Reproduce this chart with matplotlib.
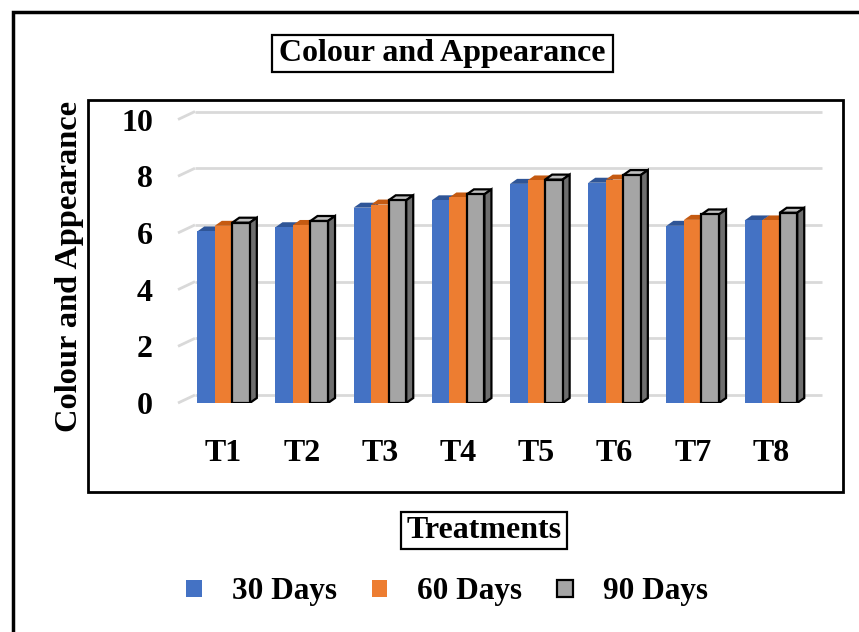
import numpy as np
import matplotlib
matplotlib.use("Agg")
import matplotlib.pyplot as plt
from matplotlib.patches import Rectangle, Polygon, Patch

plt.rcParams['font.family'] = ['Liberation Serif', 'DejaVu Serif']
plt.rcParams['font.weight'] = 'bold'

# sensory scores
treatments = ['T1', 'T2', 'T3', 'T4', 'T5', 'T6', 'T7', 'T8']
days_30 = [6.05, 6.20, 6.89, 7.15, 7.73, 7.77, 6.25, 6.44]
days_60 = [6.25, 6.28, 7.00, 7.25, 7.85, 7.88, 6.46, 6.44]
days_90 = [6.36, 6.42, 7.15, 7.36, 7.88, 8.04, 6.65, 6.71]
series_names = ['30 Days', '60 Days', '90 Days']

W, H = 859, 632
fig = plt.figure(figsize=(W / 100, H / 100), dpi=100)


def box(x0, y0, x1, y1, lw):
    # rectangle given in pixel coords measured from the top-left corner
    fig.patches.append(Rectangle((x0 / W, 1 - y1 / H), (x1 - x0) / W,
                                 (y1 - y0) / H, transform=fig.transFigure,
                                 facecolor='none', edgecolor='black', lw=lw))


# outer and inner frames, title boxes
box(13, 12, 883, 650, 2.5)
box(88, 100, 843, 492, 2)
box(272, 35, 613, 72, 1.6)
box(401, 512, 567, 549, 1.6)

ax = fig.add_axes([178 / W, 1 - 403 / H, 644 / W, 292 / H])
ax.set_xlim(-0.582, 7.653)
ax.set_ylim(0, 10.3)
for s in ax.spines.values():
    s.set_visible(False)
ax.patch.set_alpha(0)

# 3D-ish gridlines: short diagonal at the left wall, then along the back wall
xl, xr = ax.get_xlim()
gdx, gdy = 0.217, 0.282
yticks = [0, 2, 4, 6, 8, 10]
for v in yticks:
    ax.plot([xl, xl + gdx], [v, v + gdy], color='#d9d9d9', lw=2,
            zorder=0, clip_on=False, solid_capstyle='butt')
    ax.plot([xl + gdx, xr], [v + gdy, v + gdy], color='#d9d9d9', lw=2,
            zorder=0, clip_on=False, solid_capstyle='butt')

w = 0.224
bdx, bdy = 0.09, 0.176
face = ['#4472C4', '#ED7D31', '#A5A5A5']
top = ['#2F5597', '#C55A11', '#BFBFBF']
side = ['#2F5597', '#C55A11', '#6E6E6E']
edge = [None, None, 'black']

x = np.arange(len(treatments))
for i, vals in enumerate([days_30, days_60, days_90]):
    xs = x + (i - 1) * w
    z = 2 + i
    lw = 1.6 if edge[i] else 0
    ec = edge[i] if edge[i] else 'none'
    ax.bar(xs, vals, width=w, color=face[i], edgecolor=ec, linewidth=lw,
           zorder=z + 0.2)
    for xc, v in zip(xs, vals):
        x0, x1 = xc - w / 2, xc + w / 2
        ax.add_patch(Polygon([(x0, v), (x1, v), (x1 + bdx, v + bdy),
                              (x0 + bdx, v + bdy)], closed=True,
                             facecolor=top[i], edgecolor=ec, lw=lw,
                             zorder=z + 0.1))
        ax.add_patch(Polygon([(x1, 0), (x1 + bdx, bdy), (x1 + bdx, v + bdy),
                              (x1, v)], closed=True,
                             facecolor=side[i], edgecolor=ec, lw=lw,
                             zorder=z + 0.1))

ax.set_yticks(yticks)
ax.set_yticklabels([str(t) for t in yticks], fontsize=23, fontweight='bold')
ax.set_xticks(x)
ax.set_xticklabels(treatments, fontsize=23, fontweight='bold')
ax.tick_params(axis='y', length=0, pad=18)
ax.tick_params(axis='x', length=0, pad=26)

fig.text(442.5 / W, 1 - 54 / H, 'Colour and Appearance', ha='center',
         va='center', fontsize=23, fontweight='bold')
fig.text(70 / W, 1 - 266 / H, 'Colour and Appearance', ha='center',
         va='center', rotation=90, fontsize=23.3, fontweight='bold')
fig.text(484 / W, 1 - 531 / H, 'Treatments', ha='center', va='center',
         fontsize=23, fontweight='bold')

handles = [Patch(facecolor=face[0], edgecolor='none'),
           Patch(facecolor=face[1], edgecolor='none'),
           Patch(facecolor=face[2], edgecolor='black', lw=1.6)]
fig.legend(handles, series_names, loc='center', ncol=3, frameon=False,
           bbox_to_anchor=(447 / W, 1 - 592 / H),
           prop={'size': 22.5, 'weight': 'bold'},
           handlelength=0.5, handleheight=0.5, handletextpad=0.96,
           columnspacing=1.12)

fig.savefig('out.png', dpi=100)
